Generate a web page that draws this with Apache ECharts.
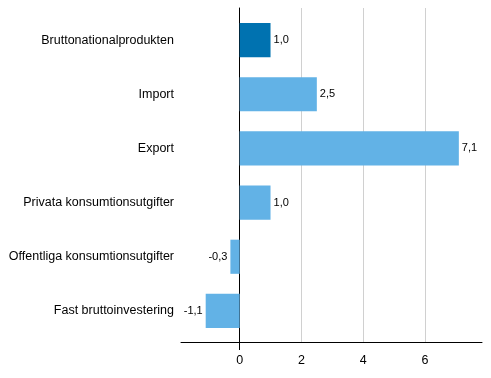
<!DOCTYPE html>
<html><head><meta charset="utf-8">
<script src="https://cdn.jsdelivr.net/npm/echarts@6/dist/echarts.min.js"></script>
<style>html,body{margin:0;padding:0;background:#fff}#c{width:491px;height:378px}</style>
</head><body><div id="c"></div>
<script>
const categories = ["Bruttonationalprodukten","Import","Export","Privata konsumtionsutgifter","Offentliga konsumtionsutgifter","Fast bruttoinvestering"];
const values = [1.0, 2.5, 7.1, 1.0, -0.3, -1.1];
const xTicks = [0, 2, 4, 6];
const xMin = -1.9, xMax = 7.85;

const dark = '#0072b0', light = '#62b2e6';
const font = 'Liberation Sans, Arial';
const chart = echarts.init(document.getElementById('c'), null, {renderer:'canvas'});
chart.setOption({
  animation:false,
  grid:[
    {left:181,right:9,top:8,bottom:36,containLabel:false},
    {left:181,right:9,top:13,bottom:40,containLabel:false}
  ],
  xAxis:[
    {gridIndex:0,type:'value',min:xMin,max:xMax,
      axisLine:{show:true,onZero:false,lineStyle:{color:'#000',width:1}},
      axisTick:{show:false,customValues:xTicks},
      axisLabel:{customValues:xTicks,color:'#000',fontSize:12.5,fontFamily:font,margin:12,
        formatter:v=>String(v).replace('.',',')},
      splitLine:{show:true,lineStyle:{color:'#d0d0d0',width:1}}
    },
    {gridIndex:1,type:'value',min:xMin,max:xMax,show:false},
    {gridIndex:0,type:'value',min:xMin,max:xMax,position:'bottom',
      axisLine:{show:false},axisLabel:{show:false},splitLine:{show:false},
      axisTick:{show:true,customValues:[0],length:8,lineStyle:{color:'#000',width:1}}
    }
  ],
  yAxis:[
    {gridIndex:0,type:'value',min:0,max:1,
      axisLine:{show:true,onZero:true,lineStyle:{color:'#000',width:1}},
      axisTick:{show:false},axisLabel:{show:false},splitLine:{show:false}
    },
    {gridIndex:1,type:'category',data:categories,inverse:true,
      axisLine:{show:false},axisTick:{show:false},
      axisLabel:{color:'#000',fontSize:12.5,fontFamily:font,margin:7}
    }
  ],
  series:[{type:'bar',xAxisIndex:1,yAxisIndex:1,barCategoryGap:'37%',
    data:values.map((v,i)=>({value:v,itemStyle:{color:i===0?dark:light},label:{position:v<0?'left':'right'}})),
    label:{show:true,color:'#000',fontSize:11,fontFamily:font,distance:3,
      formatter:p=>p.value.toFixed(1).replace('.',',')}
  }]
});
</script></body></html>
